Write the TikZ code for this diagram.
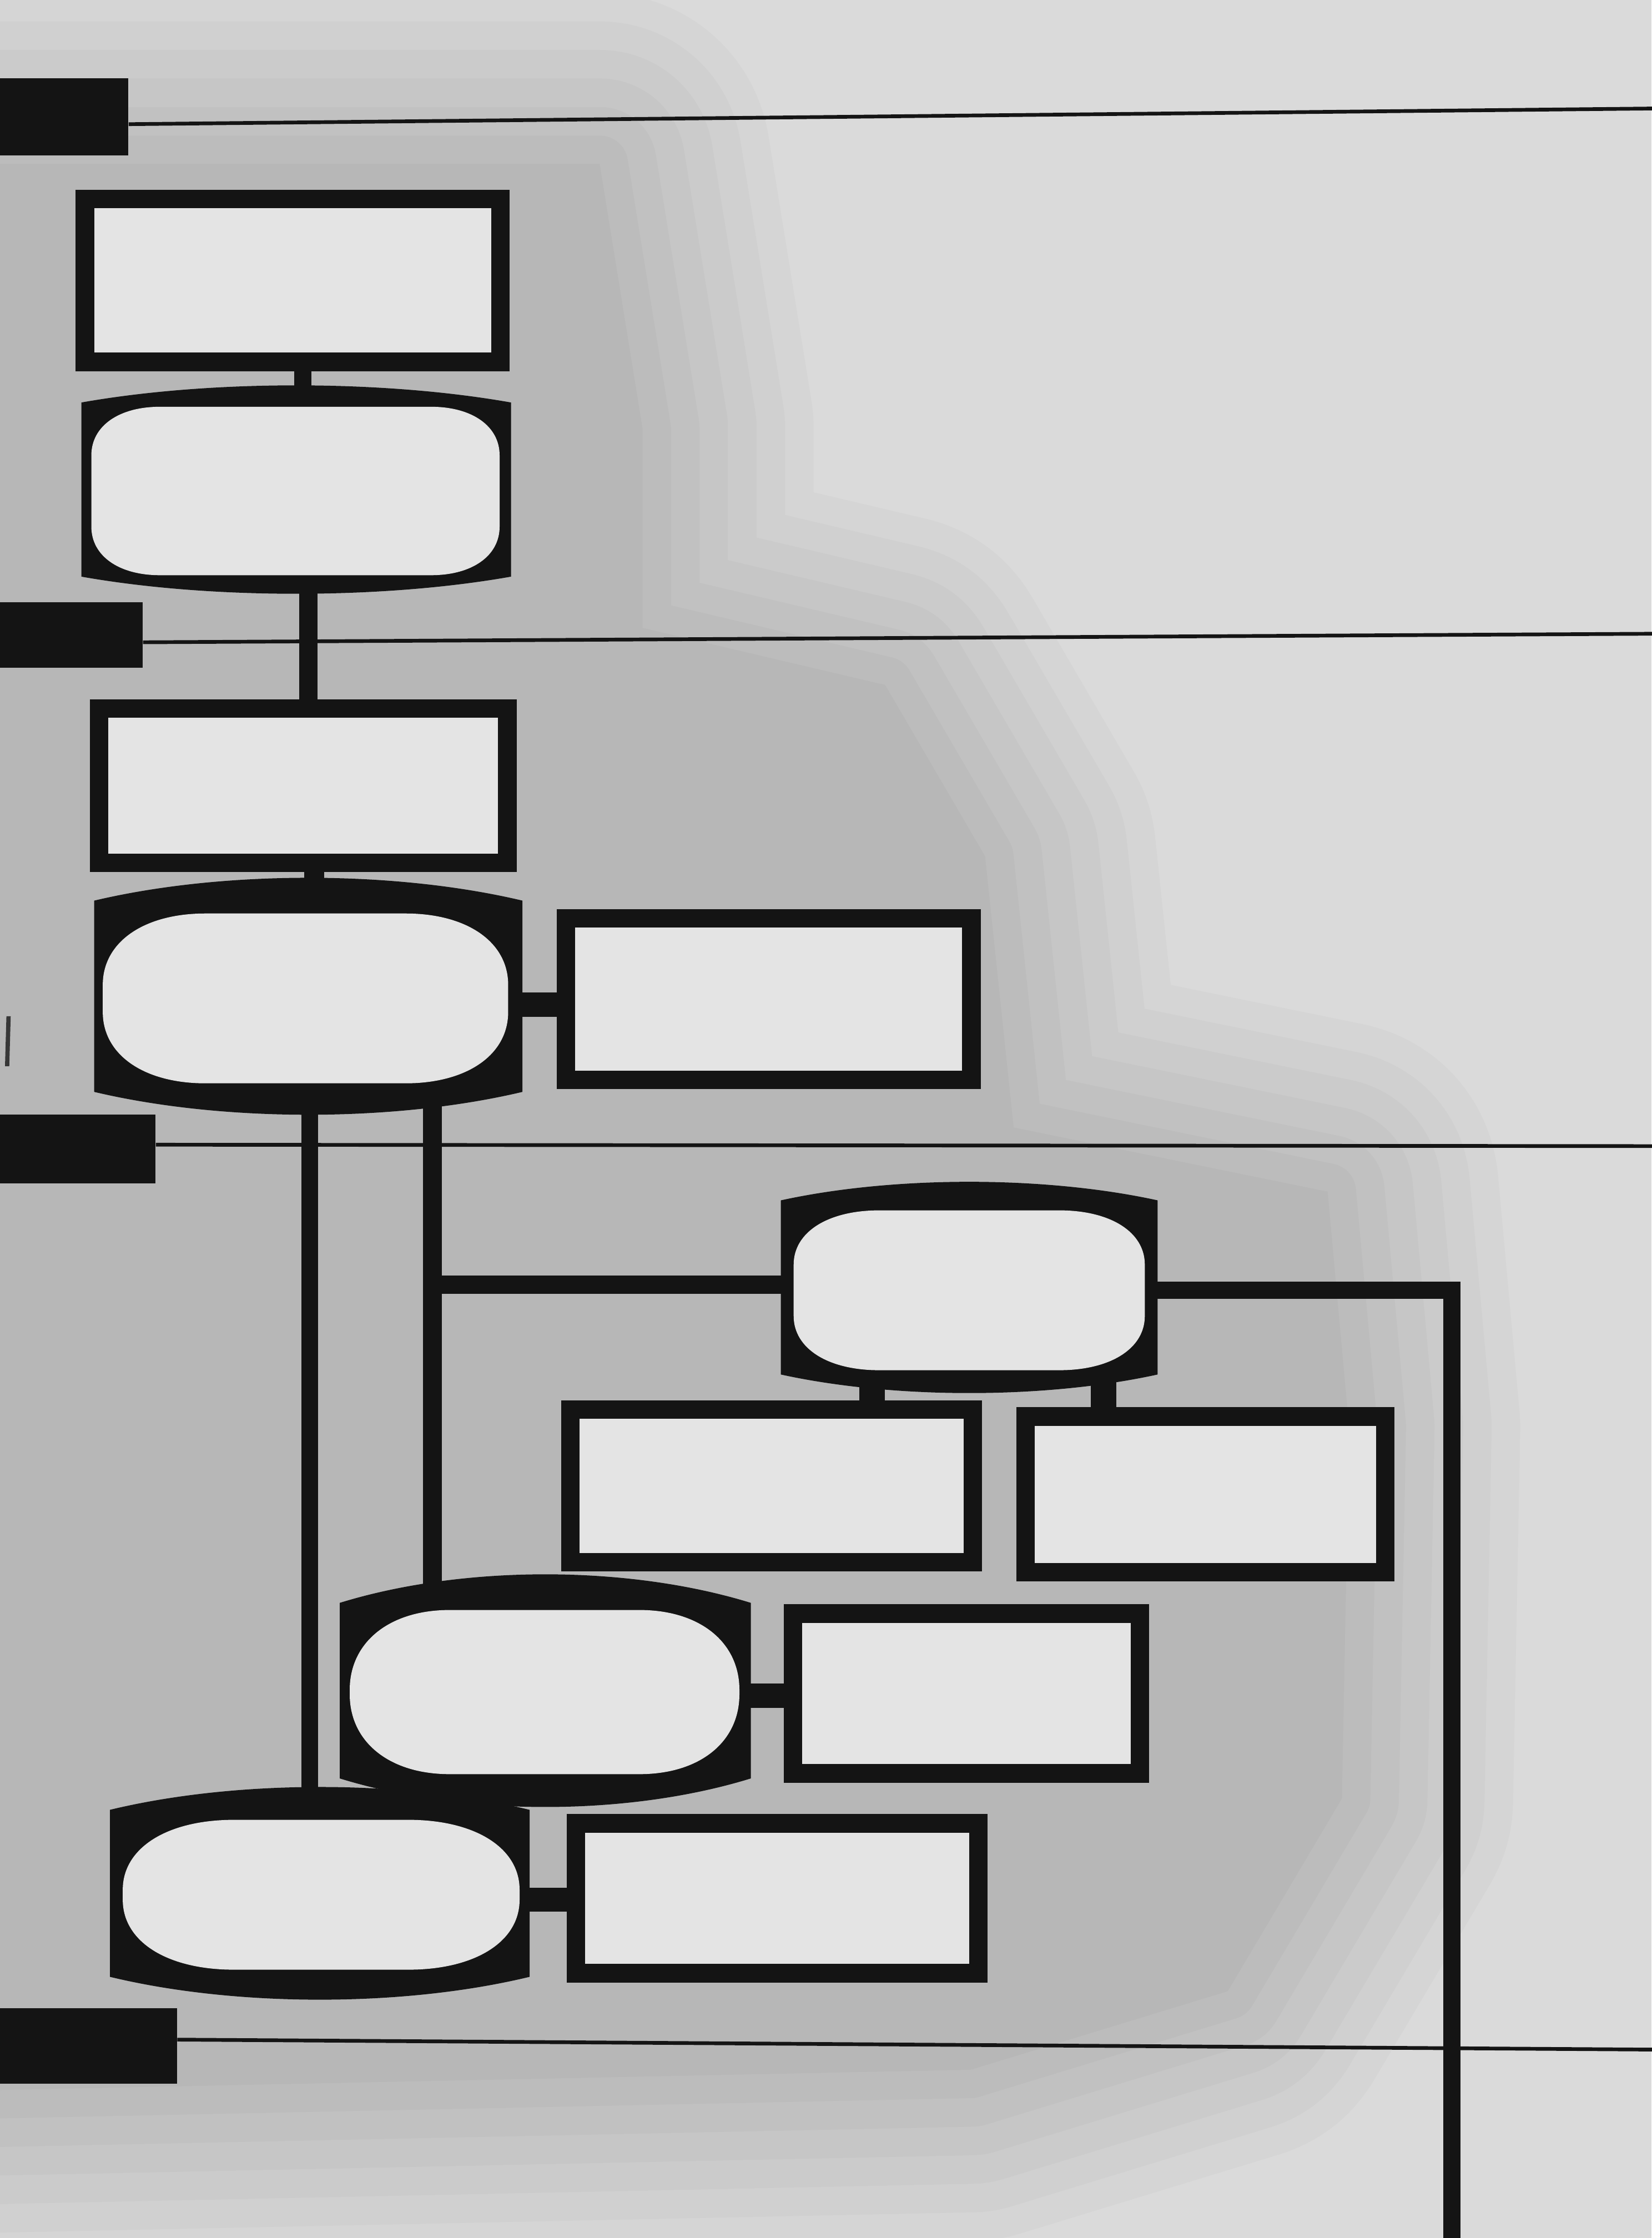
\documentclass[tikz,border=0pt]{standalone}
\definecolor{inkc}{HTML}{141414}
\definecolor{boxc}{HTML}{E4E4E4}
\definecolor{paperc}{HTML}{DADADA}
\definecolor{sha}{HTML}{D5D5D5}
\definecolor{shb}{HTML}{D0D0D0}
\definecolor{shc}{HTML}{CBCBCB}
\definecolor{shd}{HTML}{C6C6C6}
\definecolor{she}{HTML}{C1C1C1}
\definecolor{shf}{HTML}{BCBCBC}
\definecolor{shg}{HTML}{B7B7B7}
\pgfdeclarelayer{bg}
\pgfdeclarelayer{wires}
\pgfsetlayers{bg,wires,main}
\newcommand\rbox[5]{\node[rbx, minimum width={#4-#2-13}, minimum height={#5-#3-13}] (#1) at ({(#2+#4)/2},{(#3+#5)/2}) {};}
\newcommand\barrel[6]{%
  \node[bnode, minimum width={#4-#2}, minimum height={#5-#3}] (#1) at ({(#2+#4)/2},{(#3+#5)/2}) {};
  \fill[inkc] ({#2},{#3+#6}) -- ({#2},{#5-#6})
    .. controls ({#2+(#4-#2)*0.3},{#5+#6/3}) and ({#4-(#4-#2)*0.3},{#5+#6/3}) .. ({#4},{#5-#6})
    -- ({#4},{#3+#6})
    .. controls ({#4-(#4-#2)*0.3},{#3-#6/3}) and ({#2+(#4-#2)*0.3},{#3-#6/3}) .. ({#2},{#3+#6}) -- cycle;}
% white window of a barrel: x1 y1 x2 y2 rx ry (elliptical corners)
\def\kk{0.6}
\newcommand\window[6]{%
  \fill[boxc] ({#1},{#2+#6}) -- ({#1},{#4-#6})
    .. controls ({#1},{#4-#6+\kk*#6}) and ({#1+#5-\kk*#5},{#4}) .. ({#1+#5},{#4})
    -- ({#3-#5},{#4})
    .. controls ({#3-#5+\kk*#5},{#4}) and ({#3},{#4-#6+\kk*#6}) .. ({#3},{#4-#6})
    -- ({#3},{#2+#6})
    .. controls ({#3},{#2+#6-\kk*#6}) and ({#3-#5+\kk*#5},{#2}) .. ({#3-#5},{#2})
    -- ({#1+#5},{#2})
    .. controls ({#1+#5-\kk*#5},{#2}) and ({#1},{#2+#6-\kk*#6}) .. ({#1},{#2+#6}) -- cycle;}
\begin{document}
\begin{tikzpicture}[x=1pt,y=-1pt,
  rbx/.style={draw=inkc, fill=boxc, line width=13pt, rectangle, inner sep=0pt, line join=miter},
  bnode/.style={rectangle, inner sep=0pt, draw=none},
  conn/.style={draw=inkc, line width=#1, line cap=butt, line join=miter},
  conn/.default=13pt,
  rulel/.style={draw=inkc, line width=2.6pt},
  barn/.style={fill=inkc, rectangle, inner sep=0pt},
]
\useasboundingbox (0,0) rectangle (1157,1568);

% ---------- paper and pencil shading ----------
\begin{pgfonlayer}{bg}
\fill[paperc] (0,0) rectangle (1157,1568);
\foreach \w/\c in {240/sha,200/shb,160/shc,120/shd,80/she,40/shf,0.1/shg}{
  \filldraw[fill=\c, draw=\c, line width=\w pt, line join=round]
    (-40,115) -- (420,115) -- (450,300) -- (450,440) -- (620,480) -- (690,600)
    -- (710,790) -- (930,835) -- (945,1000) -- (940,1260) -- (860,1395)
    -- (680,1450) -- (-40,1465) -- cycle;
}
% section bars and rules
\node[barn, minimum width=90, minimum height=54] (b1) at (45,82) {};
\node[barn, minimum width=100, minimum height=46] (b2) at (50,445) {};
\node[barn, minimum width=109, minimum height=48] (b3) at (54.5,805) {};
\node[barn, minimum width=124, minimum height=53] (b4) at (62,1433.5) {};
\coordinate (l1e) at (1160,76);
\coordinate (l2e) at (1160,444);
\coordinate (l3e) at (1160,803);
\coordinate (l4e) at (1160,1436);
\draw[rulel] (b1.east |- 0,87) -- (l1e);
\draw[rulel] (b2.east |- 0,450) -- (l2e);
\draw[rulel] (b3.east |- 0,802) -- (l3e);
\draw[rulel] (b4.east |- 0,1429) -- (l4e);
% small pencil mark
\draw[draw=inkc!85, line width=3pt] (6,712) -- (5,747);
\end{pgfonlayer}

% ---------- boxes ----------
\rbox{r1}{53}{133}{357}{260}
\rbox{r2}{63}{490}{362}{611}
\rbox{r3}{390}{637}{687}{763}
\rbox{r4}{393}{981}{688}{1101}
\rbox{r5}{712}{986}{977}{1108}
\rbox{r6}{549}{1124}{805}{1249}
\rbox{r7}{397}{1271}{692}{1389}

% ---------- barrels ----------
\barrel{e1}{57}{270}{358}{416}{12}
\window{64}{285}{350}{403}{48}{34}
\barrel{e2}{66}{615}{366}{781}{16}
\window{72}{640}{356}{759}{72}{50}
\barrel{e3}{547}{828}{811}{976}{13}
\window{556}{848}{802}{960}{60}{38}
\barrel{e4}{238}{1103}{526}{1266}{20}
\window{245}{1128}{518}{1243}{70}{56}
\barrel{e5}{77}{1252}{371}{1401}{16}
\window{86}{1275}{364}{1380}{78}{49}

% ---------- connectors ----------
\begin{pgfonlayer}{wires}
\draw[conn=12pt] (r1.center -| 212,0) -- (e1.center -| 212,0);
\draw[conn=13pt] (e1.center -| 216,0) -- (r2.center -| 216,0);
\draw[conn=14pt] (r2.center -| 220,0) -- (e2.center -| 220,0);
\draw[conn=17pt] (e2.center |- 0,704) -- (r3.center |- 0,704);
\draw[conn=12pt] (e2.center -| 217,0) -- (e5.center -| 217,0);
\draw[conn=13pt] (e2.center -| 303,0) -- (e4.center -| 303,0);
\coordinate (j1) at (303,900);
\draw[conn=13pt] (j1) -- (e3.center |- j1);
\coordinate (rb) at (1017,1575);
\draw[conn=12pt] (e3.center |- 0,904) -| (rb);
\draw[conn=18pt] (e3.center -| 611,0) -- (r4.center -| 611,0);
\draw[conn=18pt] (e3.center -| 773,0) -- (r5.center -| 773,0);
\draw[conn=17pt] (e4.center |- 0,1188) -- (r6.center |- 0,1188);
\draw[conn=17pt] (e5.center |- 0,1331) -- (r7.center |- 0,1331);
\end{pgfonlayer}
\end{tikzpicture}
\end{document}
